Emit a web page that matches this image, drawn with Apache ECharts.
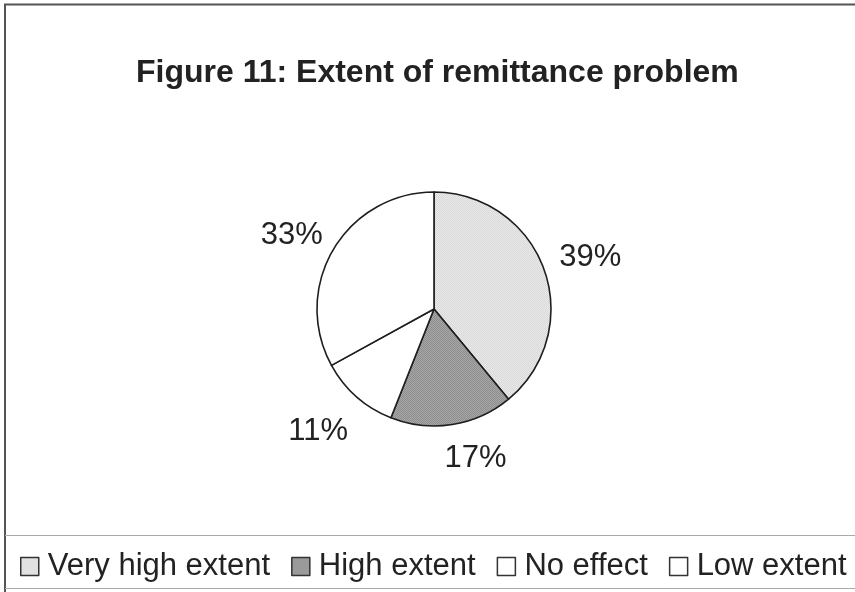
<!DOCTYPE html>
<html>
<head>
<meta charset="utf-8">
<script src="https://cdn.jsdelivr.net/npm/echarts@6/dist/echarts.min.js"></script>
<style>
  html, body { margin: 0; padding: 0; background: #fff; }
  #chart { width: 855px; height: 592px; }
</style>
</head>
<body>
<div id="chart"></div>
<script>
// Survey answers: extent of the remittance problem (percent of respondents)
const categories = ['Very high extent', 'High extent', 'No effect', 'Low extent'];
const shares = [39, 17, 11, 33];
const chartTitle = 'Figure 11: Extent of remittance problem';

const FONT = '"Liberation Sans", Arial, Helvetica, sans-serif';

// Small stippled fills, like a printed halftone
function stipple(a, b) {
  const c = document.createElement('canvas');
  c.width = 2; c.height = 2;
  const g = c.getContext('2d');
  g.fillStyle = a; g.fillRect(0, 0, 2, 2);
  g.fillStyle = b; g.fillRect(0, 0, 1, 1); g.fillRect(1, 1, 1, 1);
  return { image: c, repeat: 'repeat' };
}
const fills = [
  stipple('#eaeaea', '#d8d8d8'),
  stipple('#a6a6a6', '#8e8e8e'),
  '#ffffff',
  '#ffffff'
];
// small nudges so each percentage sits where the layout puts it best
const labelNudge = [[3, 4], [16, -12], [-8, 0], [-2, 9]];

const center = [434, 309];

const chart = echarts.init(document.getElementById('chart'), null, { renderer: 'canvas' });
chart.setOption({
  backgroundColor: '#ffffff',
  animation: false,
  title: {
    text: chartTitle,
    left: 131,
    top: 52,
    textStyle: { fontFamily: FONT, fontSize: 32, fontWeight: 'bold', color: '#222' }
  },
  legend: {
    data: categories,
    left: 15,
    top: 546,
    icon: 'rect',
    itemWidth: 18,
    itemHeight: 18,
    itemGap: 21,
    selectedMode: false,
    itemStyle: { borderColor: '#333', borderWidth: 1.5 },
    textStyle: { fontFamily: FONT, fontSize: 31, color: '#222', padding: [0, 0, 0, 4] }
  },
  graphic: [
    // outer frame (top and left edges) and legend box rules
    { type: 'line', shape: { x1: 4, y1: 4.5, x2: 855, y2: 4.5 }, style: { stroke: '#555', lineWidth: 2 }, silent: true },
    { type: 'line', shape: { x1: 5, y1: 4, x2: 5, y2: 592 }, style: { stroke: '#555', lineWidth: 2 }, silent: true },
    { type: 'line', shape: { x1: 5, y1: 535.5, x2: 855, y2: 535.5 }, style: { stroke: '#aaa', lineWidth: 1 }, silent: true },
    { type: 'line', shape: { x1: 5, y1: 588.5, x2: 855, y2: 588.5 }, style: { stroke: '#aaa', lineWidth: 1 }, silent: true }
  ],
  series: [
    {
      type: 'pie',
      center: center,
      radius: [0, 117],
      startAngle: 90,
      clockwise: true,
      silent: true,
      label: { show: false },
      labelLine: { show: false },
      emphasis: { disabled: true },
      itemStyle: { borderColor: '#1e1e1e', borderWidth: 1.6 },
      data: categories.map((name, i) => ({ name: name, value: shares[i], itemStyle: { color: fills[i] } }))
    },
    {
      // percentage labels set just outside the pie on each slice's mid-angle
      type: 'pie',
      center: center,
      radius: [140, 180],
      startAngle: 90,
      clockwise: true,
      silent: true,
      emphasis: { disabled: true },
      itemStyle: { color: 'rgba(0,0,0,0)', borderWidth: 0 },
      labelLine: { show: false },
      label: {
        show: true,
        position: 'inside',
        formatter: '{c}%',
        fontFamily: FONT,
        fontSize: 31,
        color: '#222'
      },
      data: categories.map((name, i) => ({
        name: name,
        value: shares[i],
        label: { offset: labelNudge[i] }
      }))
    }
  ]
});
</script>
</body>
</html>
